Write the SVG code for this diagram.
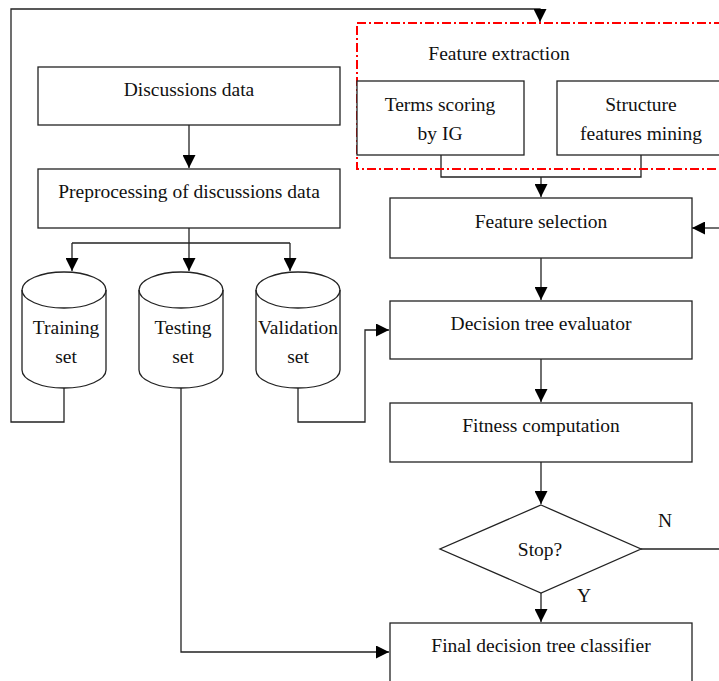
<svg xmlns="http://www.w3.org/2000/svg" width="719" height="681" viewBox="0 0 719 681">
<defs>
<marker id="ah" viewBox="0 0 10 10" refX="10" refY="5" markerWidth="13" markerHeight="13" markerUnits="userSpaceOnUse" orient="auto">
<path d="M0,0 L10,5 L0,10 Z" fill="#000"/>
</marker>
<style>
.box{fill:#fff;stroke:#222;stroke-width:1.3}
.t{font-family:"Liberation Serif","Times New Roman",serif;font-size:19.5px;fill:#111;text-anchor:middle}
.c{fill:none;stroke:#222;stroke-width:1.3}
.a{fill:none;stroke:#222;stroke-width:1.3;marker-end:url(#ah)}
</style>
</defs>
<rect width="719" height="681" fill="#fff"/>

<g id="connectors">
<path class="a" d="M64,388 V422 H11 V9 H540 V22"/>
<path class="a" d="M189,125 V168"/>
<path class="c" d="M189,228 V243"/>
<path class="c" d="M72,243 H290"/>
<path class="a" d="M72,243 V271"/>
<path class="a" d="M189,243 V271"/>
<path class="a" d="M290,243 V271"/>
<path class="c" d="M441,155 V177 H641 V155"/>
<path class="a" d="M541,177 V197"/>
<path class="a" d="M541,258 V300"/>
<path class="a" d="M298,388 V422 H365 V330 H389"/>
<path class="a" d="M541,359 V402"/>
<path class="a" d="M541,462 V504"/>
<path class="a" d="M541,593 V622"/>
<path class="a" d="M181,388 V652 H389"/>
<path class="c" d="M641,549 H719"/>
<path class="a" d="M719,228 H692"/>
</g>

<g id="feature-extraction">
<rect x="357" y="23" width="370" height="146" fill="none" stroke="#f00" stroke-width="2" stroke-dasharray="9,3,2,3"/>
<rect x="424" y="38" width="152" height="30" fill="#fff"/>
<text class="t" x="499" y="60">Feature extraction</text>
</g>

<g id="discussions-data">
<rect class="box" x="38" y="67" width="302" height="58"/>
<text class="t" x="189" y="96">Discussions data</text>
</g>

<g id="preprocessing">
<rect class="box" x="38" y="169" width="302" height="59"/>
<text class="t" x="189" y="198">Preprocessing of discussions data</text>
</g>

<g id="terms-scoring">
<rect class="box" x="357" y="81" width="167" height="74"/>
<text class="t" x="440" y="111">Terms scoring</text>
<text class="t" x="440" y="140">by IG</text>
</g>

<g id="structure-features">
<rect class="box" x="557" y="81" width="180" height="74"/>
<text class="t" x="641" y="111">Structure</text>
<text class="t" x="641" y="140">features mining</text>
</g>

<g id="feature-selection">
<rect class="box" x="390" y="198" width="302" height="60"/>
<text class="t" x="541" y="228">Feature selection</text>
</g>

<g id="training-set">
<path class="box" d="M22,290 A42,18 0 0 1 106,290 V370 A42,18 0 0 1 22,370 Z"/>
<path class="c" d="M22,290 A42,18 0 0 0 106,290"/>
<text class="t" x="66" y="334">Training</text>
<text class="t" x="66" y="363">set</text>
</g>

<g id="testing-set">
<path class="box" d="M139,290 A42,18 0 0 1 223,290 V370 A42,18 0 0 1 139,370 Z"/>
<path class="c" d="M139,290 A42,18 0 0 0 223,290"/>
<text class="t" x="183" y="334">Testing</text>
<text class="t" x="183" y="363">set</text>
</g>

<g id="validation-set">
<path class="box" d="M256,290 A42,18 0 0 1 340,290 V370 A42,18 0 0 1 256,370 Z"/>
<path class="c" d="M256,290 A42,18 0 0 0 340,290"/>
<text class="t" x="298" y="334">Validation</text>
<text class="t" x="298" y="363">set</text>
</g>

<g id="decision-tree-evaluator">
<rect class="box" x="390" y="301" width="302" height="58"/>
<text class="t" x="541" y="330">Decision tree evaluator</text>
</g>

<g id="fitness-computation">
<rect class="box" x="390" y="403" width="302" height="59"/>
<text class="t" x="541" y="432">Fitness computation</text>
</g>

<g id="stop">
<path class="box" d="M541,505 L641,549 L541,593 L440,549 Z"/>
<text class="t" x="540" y="556">Stop?</text>
</g>

<g id="labels">
<rect x="656" y="507" width="18" height="24" fill="#fff"/>
<text class="t" x="665" y="527">N</text>
<rect x="576" y="583" width="16" height="24" fill="#fff"/>
<text class="t" x="584" y="602">Y</text>
</g>

<g id="final-classifier">
<rect class="box" x="390" y="623" width="302" height="70"/>
<text class="t" x="541" y="652">Final decision tree classifier</text>
</g>
</svg>
